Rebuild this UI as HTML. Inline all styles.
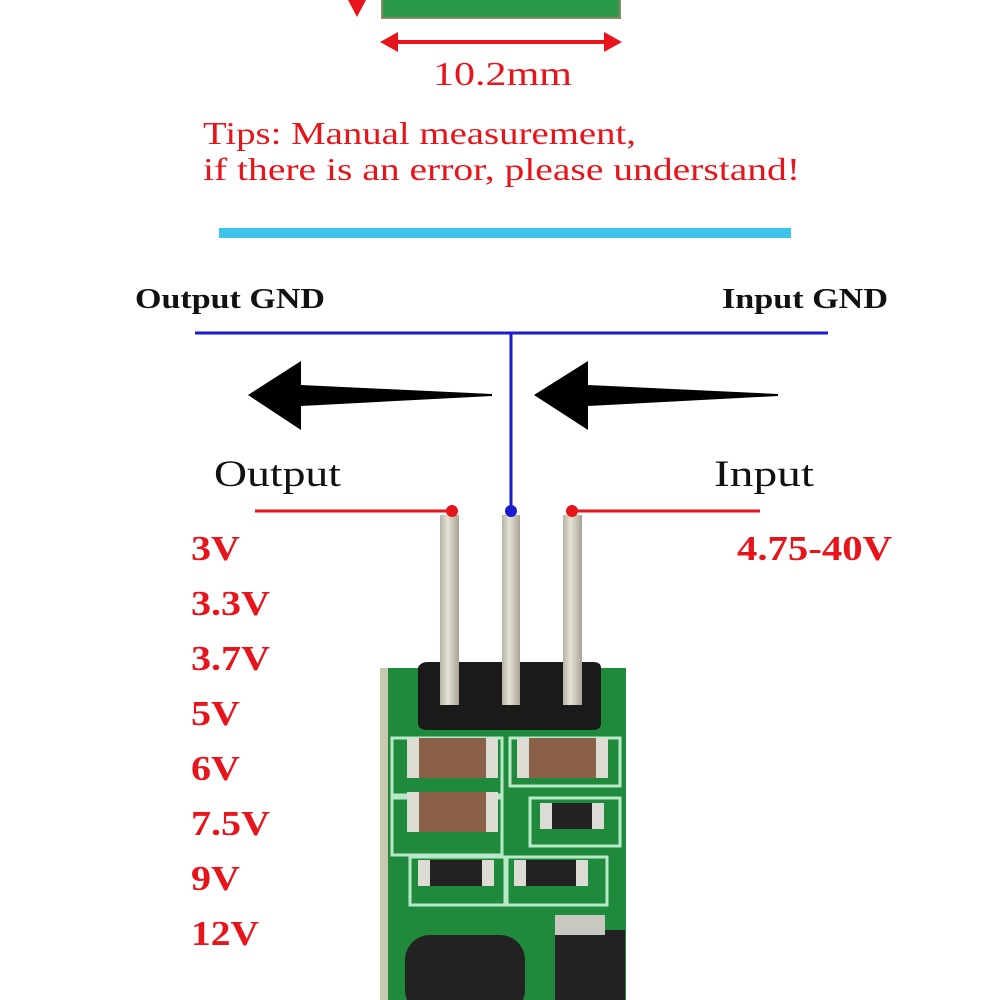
<!DOCTYPE html>
<html><head><meta charset="utf-8"><style>
html,body{margin:0;padding:0;background:#fff;}
svg{display:block;}
</style></head><body>
<svg width="1000" height="1000" viewBox="0 0 1000 1000" xmlns="http://www.w3.org/2000/svg">
<defs>
<linearGradient id="pin" x1="0" x2="1" y1="0" y2="0">
<stop offset="0" stop-color="#b8b2a2"/><stop offset="0.4" stop-color="#e6e2d8"/><stop offset="1" stop-color="#a8a292"/>
</linearGradient>
</defs>
<rect x="382" y="-4" width="238" height="22" fill="#2a9a4a" stroke="#8a8a6a" stroke-width="2"/>
<polygon points="348,0 366,0 357,17" fill="#e8141c"/>
<line x1="392" y1="42" x2="610" y2="42" stroke="#e8141c" stroke-width="4"/>
<polygon points="380,42 398,32 398,52" fill="#e8141c"/>
<polygon points="622,42 604,32 604,52" fill="#e8141c"/>
<g font-family="Liberation Serif, serif" fill="#e8141c" lengthAdjust="spacingAndGlyphs">
<text x="433" y="85" font-size="34" textLength="139" lengthAdjust="spacingAndGlyphs">10.2mm</text>
<text x="203" y="144" font-size="32" textLength="433" lengthAdjust="spacingAndGlyphs">Tips: Manual measurement,</text>
<text x="203" y="180" font-size="32" textLength="597" lengthAdjust="spacingAndGlyphs">if there is an error, please understand!</text>
</g>
<rect x="219" y="228" width="572" height="10" fill="#3cc4ec"/>
<text x="135" y="308" font-family="Liberation Serif, serif" font-weight="bold" font-size="29" fill="#111" textLength="190" lengthAdjust="spacingAndGlyphs">Output GND</text>
<text x="722" y="308" font-family="Liberation Serif, serif" font-weight="bold" font-size="29" fill="#111" textLength="166" lengthAdjust="spacingAndGlyphs">Input GND</text>
<line x1="195" y1="333" x2="828" y2="333" stroke="#1a1ad0" stroke-width="3"/>
<line x1="511" y1="333" x2="511" y2="511" stroke="#1a1ad0" stroke-width="3"/>
<polygon points="248,395 301,361 301,385 492,394 492,396 301,406 301,430" fill="#000"/>
<polygon points="534,395 588,361 588,385 778,394 778,396 588,406 588,430" fill="#000"/>
<text x="214" y="486" font-family="Liberation Serif, serif" font-size="37" fill="#111" textLength="127" lengthAdjust="spacingAndGlyphs">Output</text>
<text x="714" y="486" font-family="Liberation Serif, serif" font-size="37" fill="#111" textLength="100" lengthAdjust="spacingAndGlyphs">Input</text>
<rect x="380" y="668" width="246" height="340" fill="#1f8a3c"/>
<rect x="380" y="668" width="8" height="340" fill="#c8c8b0"/>
<g fill="none" stroke="#b8e8c8" stroke-width="3">
<rect x="392" y="738" width="110" height="60"/>
<rect x="510" y="738" width="110" height="48"/>
<rect x="392" y="795" width="110" height="60"/>
<rect x="530" y="798" width="90" height="48"/>
<rect x="410" y="857" width="95" height="48"/>
<rect x="507" y="857" width="100" height="48"/>
</g>
<g fill="#8a6048">
<rect x="415" y="738" width="75" height="40" rx="5"/>
<rect x="525" y="738" width="75" height="40" rx="5"/>
<rect x="415" y="792" width="75" height="40" rx="5"/>
</g>
<g fill="#dcdcd4">
<rect x="407" y="738" width="12" height="40"/><rect x="486" y="738" width="12" height="40"/>
<rect x="517" y="738" width="12" height="40"/><rect x="596" y="738" width="12" height="40"/>
<rect x="407" y="792" width="12" height="40"/><rect x="486" y="792" width="12" height="40"/>
<rect x="540" y="803" width="12" height="26"/><rect x="592" y="803" width="12" height="26"/>
<rect x="418" y="860" width="12" height="26"/><rect x="482" y="860" width="12" height="26"/>
<rect x="514" y="860" width="12" height="26"/><rect x="576" y="860" width="12" height="26"/>
</g>
<g fill="#222">
<rect x="552" y="803" width="40" height="26"/>
<rect x="430" y="860" width="52" height="26"/>
<rect x="526" y="860" width="50" height="26"/>
<rect x="555" y="930" width="70" height="80"/>
<rect x="405" y="935" width="120" height="80" rx="25"/>
</g>
<rect x="555" y="915" width="50" height="20" fill="#c8c8c0"/>
<path d="M418 668 q2 -6 10 -6 h165 q8 0 8 6 v55 q0 7 -8 7 h-165 q-10 0 -10 -7 z" fill="#1a1a1a"/>
<rect x="440" y="515" width="19" height="190" fill="url(#pin)"/>
<rect x="502" y="515" width="18" height="190" fill="url(#pin)"/>
<rect x="563" y="515" width="19" height="190" fill="url(#pin)"/>
<line x1="255" y1="511" x2="452" y2="511" stroke="#e8141c" stroke-width="3"/>
<line x1="572" y1="511" x2="760" y2="511" stroke="#e8141c" stroke-width="3"/>
<circle cx="452" cy="511" r="6" fill="#e8141c"/>
<circle cx="572" cy="511" r="6" fill="#e8141c"/>
<circle cx="511" cy="511" r="6" fill="#1a1ad0"/>
<g font-family="Liberation Serif, serif" font-weight="bold" font-size="35" fill="#e8141c">
<text x="191" y="560" textLength="49" lengthAdjust="spacingAndGlyphs">3V</text>
<text x="191" y="615" textLength="79" lengthAdjust="spacingAndGlyphs">3.3V</text>
<text x="191" y="670" textLength="79" lengthAdjust="spacingAndGlyphs">3.7V</text>
<text x="191" y="725" textLength="49" lengthAdjust="spacingAndGlyphs">5V</text>
<text x="191" y="780" textLength="49" lengthAdjust="spacingAndGlyphs">6V</text>
<text x="191" y="835" textLength="79" lengthAdjust="spacingAndGlyphs">7.5V</text>
<text x="191" y="890" textLength="49" lengthAdjust="spacingAndGlyphs">9V</text>
<text x="191" y="945" textLength="68" lengthAdjust="spacingAndGlyphs">12V</text>
<text x="737" y="560" textLength="155" lengthAdjust="spacingAndGlyphs">4.75-40V</text>
</g>
</svg>
</body></html>
